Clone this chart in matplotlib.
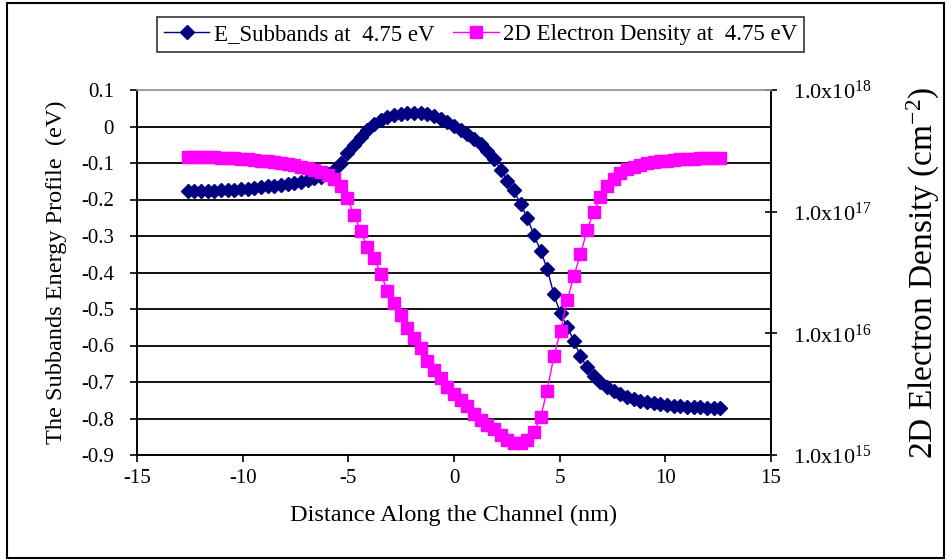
import numpy as np
import matplotlib
matplotlib.use("Agg")
import matplotlib.pyplot as plt
from matplotlib.ticker import FixedLocator, FixedFormatter, NullLocator
from matplotlib.lines import Line2D
from matplotlib.patches import Rectangle

plt.rcParams['font.family'] = ['Liberation Serif', 'DejaVu Serif']
plt.rcParams['mathtext.fontset'] = 'custom'
plt.rcParams['mathtext.rm'] = 'Liberation Serif'
plt.rcParams['mathtext.it'] = 'Liberation Serif:italic'
plt.rcParams['mathtext.default'] = 'regular'

# ---- data ----
distance_nm = [
    -12.600, -12.285, -11.970, -11.655, -11.340, -11.025, -10.710, -10.395, -10.080, -9.765,
    -9.450, -9.135, -8.820, -8.505, -8.190, -7.875, -7.560, -7.245, -6.930, -6.615,
    -6.300, -5.985, -5.670, -5.355, -5.040, -4.725, -4.410, -4.095, -3.780, -3.465,
    -3.150, -2.835, -2.520, -2.205, -1.890, -1.575, -1.260, -0.945, -0.630, -0.315,
    0.000, 0.315, 0.630, 0.945, 1.260, 1.575, 1.890, 2.205, 2.520, 2.835,
    3.150, 3.465, 3.780, 4.095, 4.410, 4.725, 5.040, 5.355, 5.670, 5.985,
    6.300, 6.615, 6.930, 7.245, 7.560, 7.875, 8.190, 8.505, 8.820, 9.135,
    9.450, 9.765, 10.080, 10.395, 10.710, 11.025, 11.340, 11.655, 11.970, 12.285,
    12.600]

e_subbands_eV = [
    -0.178, -0.178, -0.177, -0.177, -0.176, -0.175, -0.174, -0.173, -0.172, -0.170,
    -0.168, -0.166, -0.164, -0.162, -0.160, -0.157, -0.154, -0.151, -0.147, -0.142,
    -0.137, -0.130, -0.118, -0.100, -0.072, -0.050, -0.030, -0.010, 0.006, 0.017,
    0.026, 0.032, 0.035, 0.037, 0.037, 0.036, 0.033, 0.028, 0.021, 0.012,
    0.002, -0.009, -0.021, -0.035, -0.048, -0.066, -0.088, -0.118, -0.148, -0.175,
    -0.213, -0.250, -0.297, -0.340, -0.390, -0.460, -0.512, -0.548, -0.587, -0.630,
    -0.660, -0.684, -0.701, -0.714, -0.725, -0.733, -0.740, -0.746, -0.751, -0.755,
    -0.758, -0.761, -0.764, -0.766, -0.767, -0.768, -0.769, -0.769, -0.770, -0.770,
    -0.770]

# log10 of the 2D electron density (cm^-2)
log10_density = [
    17.450, 17.450, 17.449, 17.448, 17.447, 17.445, 17.443, 17.440, 17.436, 17.432,
    17.426, 17.420, 17.413, 17.405, 17.397, 17.389, 17.380, 17.370, 17.358, 17.343,
    17.325, 17.302, 17.270, 17.210, 17.110, 16.970, 16.840, 16.710, 16.620, 16.490,
    16.350, 16.250, 16.150, 16.040, 15.960, 15.880, 15.770, 15.700, 15.630, 15.560,
    15.500, 15.450, 15.400, 15.340, 15.290, 15.250, 15.210, 15.165, 15.125, 15.100,
    15.095, 15.120, 15.190, 15.310, 15.530, 15.810, 16.020, 16.270, 16.470, 16.650,
    16.850, 17.000, 17.120, 17.210, 17.270, 17.320, 17.350, 17.370, 17.385, 17.400,
    17.408, 17.415, 17.420, 17.425, 17.430, 17.433, 17.436, 17.438, 17.440, 17.440,
    17.440]

left_ticks = [0.1, 0, -0.1, -0.2, -0.3, -0.4, -0.5, -0.6, -0.7, -0.8, -0.9]
left_tick_labels = ["0.1", "0", "-0.1", "-0.2", "-0.3", "-0.4", "-0.5", "-0.6", "-0.7", "-0.8", "-0.9"]
x_ticks = [-15, -10, -5, 0, 5, 10, 15]
right_ticks = [1e15, 1e16, 1e17, 1e18]
right_tick_labels = [r"1.0x$10^{15}$", r"1.0x$10^{16}$", r"1.0x$10^{17}$", r"1.0x$10^{18}$"]

label_e = "E_Subbands at  4.75 eV"
label_n = "2D Electron Density at  4.75 eV"

BLUE = "#000080"
MAGENTA = "#FF00FF"

density = [10 ** v for v in log10_density]

fig = plt.figure(figsize=(9.52, 5.60), dpi=100)
W, H = 952, 560
ax = fig.add_axes([137 / W, 1 - 455 / H, (771 - 137) / W, (455 - 90) / H])
ax2 = ax.twinx()

# gridlines
for yv in left_ticks:
    ax.axhline(yv, color="black", lw=1.3, zorder=1)

ax.plot(distance_nm, e_subbands_eV, color=BLUE, lw=1.0, marker="D", ms=7,
        mec=BLUE, mfc=BLUE, zorder=3, clip_on=False)
ax2.plot(distance_nm, density, color=MAGENTA, lw=1.0, marker="s", ms=8.5,
         mec=MAGENTA, mfc=MAGENTA, zorder=3, clip_on=False)

ax.set_xlim(-15, 15)
ax.set_ylim(-0.9, 0.1)
ax.set_xticks(x_ticks)
ax.set_xticklabels([str(t) for t in x_ticks])
ax.set_yticks(left_ticks)
ax.set_yticklabels(left_tick_labels)

ax2.set_yscale("log")
ax2.set_ylim(1e15, 1e18)
ax2.yaxis.set_major_locator(FixedLocator(right_ticks))
ax2.yaxis.set_major_formatter(FixedFormatter(right_tick_labels))
ax2.yaxis.set_minor_locator(NullLocator())

for a in (ax, ax2):
    for s in a.spines.values():
        s.set_color("black")
        s.set_linewidth(1.2)
    a.spines["top"].set_color("#a0a0a0")

ax.tick_params(axis="both", direction="out", length=5, width=1.2, labelsize=15, color="black")
ax.tick_params(axis="y", pad=11.5)
ax.tick_params(axis="x", pad=5)
ax2.tick_params(axis="y", direction="inout", length=8, width=1.2, labelsize=16, pad=12)

ax.set_xlabel("Distance Along the Channel (nm)", fontsize=17.5, labelpad=12)
ax.set_ylabel("The Subbands Energy Profile  (eV)", fontsize=17.5, labelpad=10)
ax2.set_ylabel(r"2D Electron Density (cm$^{-2}$)", fontsize=24, labelpad=24)

handles = [
    Line2D([], [], color=BLUE, lw=1.0, marker="D", ms=7),
    Line2D([], [], color=MAGENTA, lw=1.0, marker="s", ms=8.5),
]
leg = fig.legend(handles, [label_e, label_n], loc="center", ncol=2,
                 bbox_to_anchor=(480.5 / W, 1 - 34.5 / H), fontsize=16.5,
                 frameon=True, fancybox=False, edgecolor="black",
                 handlelength=2.0, columnspacing=0.8, handletextpad=0.2,
                 borderpad=0.3)
leg.get_frame().set_linewidth(1.2)

# outer chart border
fig.patches.append(Rectangle((7 / W, 2 / H), (944 - 7) / W, (557 - 2) / H,
                             transform=fig.transFigure, fill=False,
                             edgecolor="black", lw=1.5))

fig.savefig("out.png", dpi=100)
